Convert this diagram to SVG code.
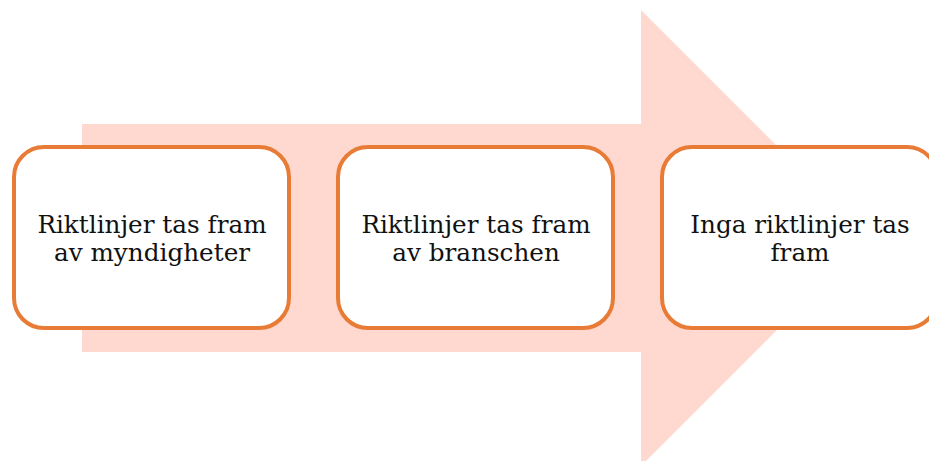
<svg xmlns="http://www.w3.org/2000/svg" width="929" height="461" viewBox="0 0 929 461">
  <style>
    .box { fill: #ffffff; stroke: #e87b35; stroke-width: 4; }
    .lbl { font-family: "DejaVu Serif", "Liberation Serif", serif; font-size: 24.7px; fill: #111111; text-anchor: middle; }
  </style>
  <rect width="929" height="461" fill="#ffffff"/>
  <!-- Background block arrow -->
  <g id="arrow">
    <polygon points="82,124 641,124 641,10 869,238 641,466 641,352 82,352" fill="#ffd9cf"/>
  </g>
  <g id="node1">
    <rect class="box" x="14" y="147" width="275" height="181" rx="30" ry="30"/>
    <text class="lbl" x="152" y="233">Riktlinjer tas fram</text>
    <text class="lbl" x="152" y="261">av myndigheter</text>
  </g>
  <g id="node2">
    <rect class="box" x="338" y="147" width="275" height="181" rx="30" ry="30"/>
    <text class="lbl" x="476" y="233">Riktlinjer tas fram</text>
    <text class="lbl" x="476" y="261">av branschen</text>
  </g>
  <g id="node3">
    <rect class="box" x="662" y="147" width="275" height="181" rx="30" ry="30"/>
    <text class="lbl" x="800" y="233">Inga riktlinjer tas</text>
    <text class="lbl" x="800" y="261">fram</text>
  </g>
  <g id="connectors"/>
</svg>
